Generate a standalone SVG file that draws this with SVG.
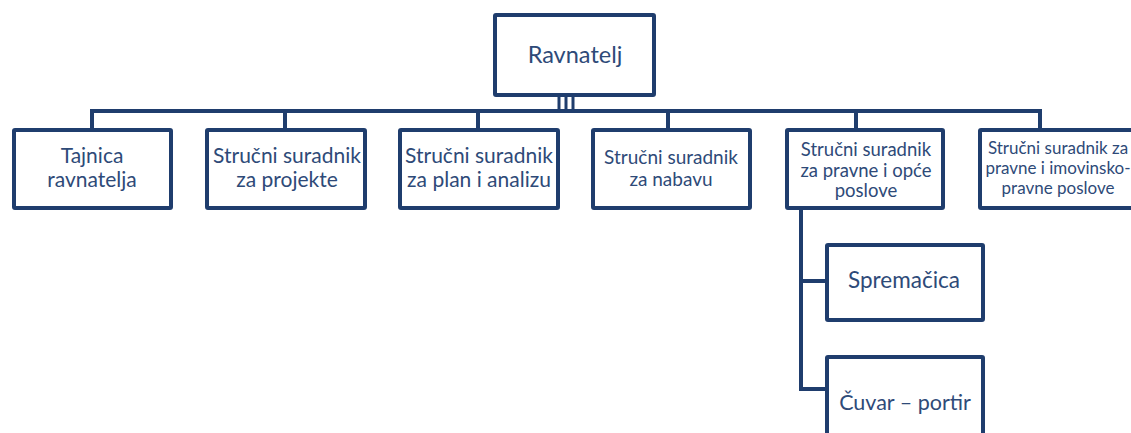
<svg xmlns="http://www.w3.org/2000/svg" width="1131" height="433" viewBox="0 0 1131 433">
<style>
.box{fill:#ffffff;stroke:#1f3d6d;stroke-width:4}
.ln{stroke:#1f3d6d;stroke-width:4;fill:none}
.thin{stroke:#1f3d6d;stroke-width:3;fill:none}
text{font-family:Lato,"Liberation Sans",sans-serif;fill:#2e4a78;text-anchor:middle}
</style>
<rect width="1131" height="433" fill="#ffffff"/>
<g id="connectors">
<line class="ln" x1="92" y1="111" x2="1041" y2="111"/>
<line class="thin" x1="559" y1="96" x2="559" y2="111"/>
<line class="thin" x1="566" y1="96" x2="566" y2="111"/>
<line class="thin" x1="573" y1="96" x2="573" y2="111"/>
<line class="ln" x1="92" y1="109" x2="92" y2="130"/>
<line class="ln" x1="285" y1="109" x2="285" y2="130"/>
<line class="ln" x1="478" y1="109" x2="478" y2="130"/>
<line class="ln" x1="668" y1="109" x2="668" y2="130"/>
<line class="ln" x1="856" y1="109" x2="856" y2="130"/>
<line class="ln" x1="1040" y1="109" x2="1040" y2="130"/>
<line class="ln" x1="801" y1="208" x2="801" y2="391"/>
<line class="ln" x1="799" y1="281" x2="827" y2="281"/>
<line class="ln" x1="799" y1="389" x2="827" y2="389"/>
</g>
<g id="ravnatelj">
<rect class="box" x="495" y="15" width="159" height="80" rx="1"/>
<text x="575" y="63" font-size="23.5">Ravnatelj</text>
</g>
<g id="tajnica">
<rect class="box" x="14" y="130" width="157" height="78" rx="1"/>
<text x="92" y="163" font-size="21">Tajnica</text>
<text x="92" y="187" font-size="21">ravnatelja</text>
</g>
<g id="projekti">
<rect class="box" x="207" y="130" width="158" height="78" rx="1"/>
<text x="287" y="163" font-size="21">Stručni suradnik</text>
<text x="287" y="187" font-size="21">za projekte</text>
</g>
<g id="plan">
<rect class="box" x="400" y="130" width="158" height="78" rx="1"/>
<text x="479" y="163" font-size="21">Stručni suradnik</text>
<text x="479" y="187" font-size="21">za plan i analizu</text>
</g>
<g id="nabava">
<rect class="box" x="593" y="130" width="157" height="78" rx="1"/>
<text x="671" y="164" font-size="19">Stručni suradnik</text>
<text x="671" y="186" font-size="19">za nabavu</text>
</g>
<g id="pravne-opce">
<rect class="box" x="787" y="130" width="156" height="78" rx="1"/>
<text x="866" y="156" font-size="18.5">Stručni suradnik</text>
<text x="866" y="177" font-size="18.5">za pravne i opće</text>
<text x="866" y="197" font-size="18.5">poslove</text>
</g>
<g id="pravne-imovinske">
<rect class="box" x="980" y="130" width="158" height="78" rx="1"/>
<text x="1058" y="154" font-size="17">Stručni suradnik za</text>
<text x="1058" y="174" font-size="17">pravne i imovinsko-</text>
<text x="1058" y="194" font-size="17">pravne poslove</text>
</g>
<g id="spremacica">
<rect class="box" x="827" y="245" width="156" height="75" rx="1"/>
<text x="904" y="288" font-size="22.5">Spremačica</text>
</g>
<g id="cuvar">
<rect class="box" x="827" y="357" width="156" height="82" rx="1"/>
<text x="905" y="410" font-size="21.5">Čuvar – portir</text>
</g>
</svg>
